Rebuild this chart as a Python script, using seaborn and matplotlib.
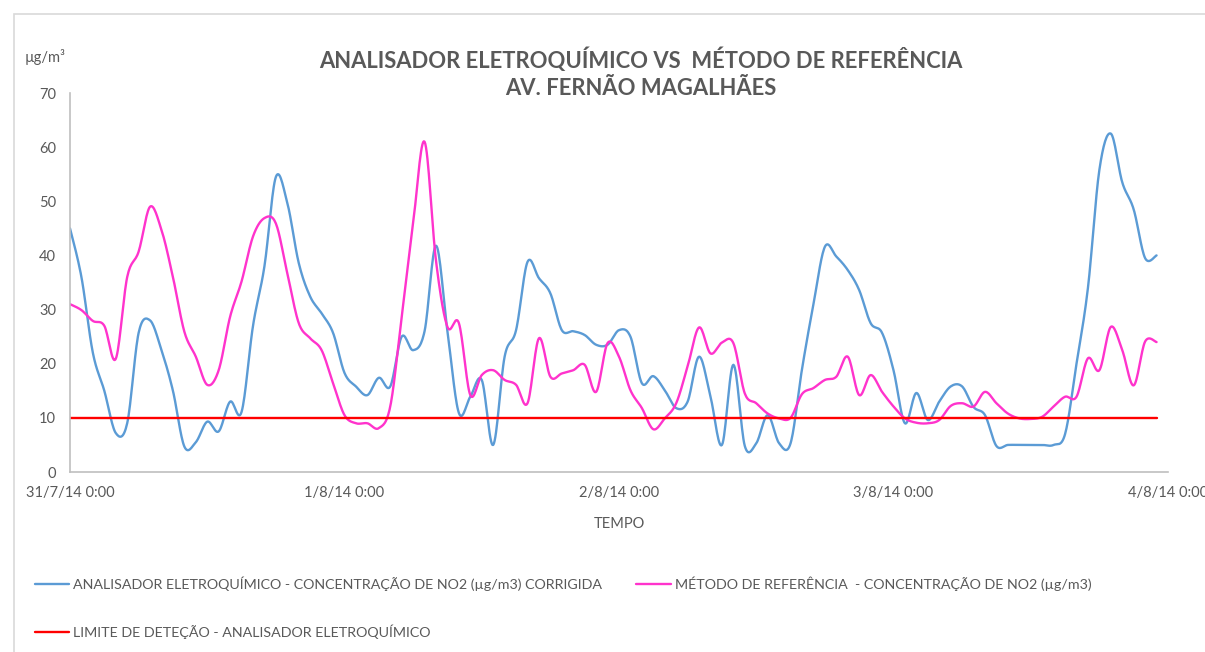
import numpy as np
import pandas as pd
import matplotlib
matplotlib.use('Agg')
import matplotlib.pyplot as plt
import matplotlib.patches as patches
import seaborn as sns

## hourly values (31/7/14 0:00 .. 3/8/14 23:00)
horas = list(range(96))

analisador = [45, 36, 22, 15, 7.2, 9, 25.7, 28, 22.5, 15,
              4.7, 5.5, 9.3, 7.5, 13, 11.1, 27, 38, 54.5, 49.7,
              38.6, 32.4, 29.3, 25.7, 18.3, 15.8, 14.2, 17.4, 15.8, 25,
              22.5, 26, 41.8, 26, 10.9, 13.9, 17, 5, 21.3, 26.2,
              38.8, 35.8, 33, 26.2, 26, 25.3, 23.5, 23.5, 26.2, 25,
              16.4, 17.7, 15.1, 11.8, 13, 21.3, 13.9, 5, 19.8, 4.8,
              5.3, 10.5, 5.3, 5.3, 19, 31, 41.6, 39.8, 37.3, 33.6,
              27.5, 25.7, 18.8, 9, 14.6, 9.6, 13, 15.8, 15.8, 12,
              10.5, 4.8, 5, 5, 5, 5, 5, 7, 20, 34,
              55.8, 62.5, 53.5, 48.5, 39.5, 40]

referencia = [31, 29.9, 27.9, 27, 20.9, 36, 40.7, 49, 44.7, 36,
              25.9, 21.3, 16.1, 18.8, 28.7, 35.2, 43.5, 46.9, 45.9, 36.7,
              27.5, 24.7, 22.5, 16.4, 10.5, 9, 9, 8.1, 12.1, 28.7,
              45.9, 61, 39, 26.8, 27.5, 14.2, 17.9, 18.8, 17, 16.1,
              12.7, 24.7, 17.6, 18.2, 18.8, 19.8, 14.8, 23.8, 21.3, 15.1,
              11.8, 7.9, 9.9, 12.7, 19.5, 26.7, 21.9, 23.9, 23.8, 14.5,
              12.7, 10.8, 9.9, 10, 14.4, 15.5, 17, 17.6, 21.3, 14.2,
              17.9, 14.8, 12.1, 9.9, 9.1, 9, 9.6, 12.2, 12.7, 12.1,
              14.8, 12.7, 10.8, 9.9, 9.8, 10.2, 12.1, 13.9, 13.9, 21,
              18.8, 26.8, 22.5, 16, 24.1, 24]

limite = 10

tick_pos = [0, 24, 48, 72, 96]
tick_labels = ['31/7/14 0:00', '1/8/14 0:00', '2/8/14 0:00', '3/8/14 0:00', '4/8/14 0:00']

nome_analisador = 'ANALISADOR ELETROQUÍMICO - CONCENTRAÇÃO DE NO2 (µg/m3) CORRIGIDA'
nome_referencia = 'MÉTODO DE REFERÊNCIA  - CONCENTRAÇÃO DE NO2 (µg/m3)'
nome_limite = 'LIMITE DE DETEÇÃO - ANALISADOR ELETROQUÍMICO'


def suavizar(x, y, n=16):
    # smoothed line like the spreadsheet one (catmull-rom bezier)
    x = np.asarray(x, float)
    y = np.asarray(y, float)
    xp = np.concatenate([[x[0]], x, [x[-1]]])
    yp = np.concatenate([[y[0]], y, [y[-1]]])
    t = np.linspace(0, 1, n, endpoint=False)
    xs, ys = [], []
    for i in range(len(x) - 1):
        for arr, out in ((xp, xs), (yp, ys)):
            p0, p1, p2, p3 = arr[i], arr[i + 1], arr[i + 2], arr[i + 3]
            c1 = p1 + (p2 - p0) / 6
            c2 = p2 - (p3 - p1) / 6
            out.extend((1 - t) ** 3 * p1 + 3 * (1 - t) ** 2 * t * c1
                       + 3 * (1 - t) * t ** 2 * c2 + t ** 3 * p2)
    xs.append(x[-1])
    ys.append(y[-1])
    return pd.DataFrame({'hora': xs, 'valor': ys})


sns.set_theme(style='white')
plt.rcParams['font.family'] = ['Lato', 'DejaVu Sans']

cinza = '#595959'
fig = plt.figure(figsize=(12.05, 6.52), dpi=100)
ax = fig.add_axes([70 / 1205, 1 - 472 / 652, (1168 - 70) / 1205, (472 - 93) / 652])

# chart border
fig.patches.append(patches.Rectangle((14 / 1205, -0.1), 1.2, 1 - 14 / 652 + 0.1,
                                     transform=fig.transFigure, fill=False,
                                     edgecolor='#D9D9D9', linewidth=1.2))

sns.lineplot(data=suavizar(horas, analisador), x='hora', y='valor', ax=ax,
             color='#5B9BD5', linewidth=1.7, estimator=None, sort=False,
             label=nome_analisador)
sns.lineplot(data=suavizar(horas, referencia), x='hora', y='valor', ax=ax,
             color='#FF33CC', linewidth=1.7, estimator=None, sort=False,
             label=nome_referencia)
ax.plot([horas[0], horas[-1]], [limite, limite], color='#FF0000', linewidth=1.7,
        label=nome_limite)

ax.set_xlim(0, 96)
ax.set_ylim(0, 70)
ax.set_yticks(range(0, 71, 10))
ax.set_xticks(tick_pos)
ax.set_xticklabels(tick_labels)
ax.tick_params(axis='both', direction='in', length=4, width=1, color='#BFBFBF',
               labelcolor=cinza, labelsize=10.5)
ax.tick_params(axis='y', pad=10)
ax.tick_params(axis='x', pad=10)
for s in ['top', 'right']:
    ax.spines[s].set_visible(False)
for s in ['left', 'bottom']:
    ax.spines[s].set_color('#BFBFBF')
    ax.spines[s].set_linewidth(1.2)

ax.set_xlabel('TEMPO', color=cinza, fontsize=10.5, labelpad=12)
ax.set_ylabel('')

fig.text(25 / 1205, 1 - 57 / 652, 'µg/m³', color=cinza, fontsize=10.5, va='center')
fig.text(641 / 1205, 1 - 73 / 652,
         'ANALISADOR ELETROQUÍMICO VS  MÉTODO DE REFERÊNCIA\nAV. FERNÃO MAGALHÃES',
         ha='center', va='center', color=cinza, fontsize=15.8, fontweight='bold',
         linespacing=1.35)

ax.get_legend().remove()
h, l = ax.get_legend_handles_labels()
order = [0, 2, 1]
fig.legend([h[i] for i in order], [l[i] for i in order], ncol=2,
           loc='upper left', bbox_to_anchor=(22 / 1205, 1 - 564 / 652),
           frameon=False, fontsize=10.25, labelcolor=cinza, handlelength=2.4,
           handletextpad=0.3, labelspacing=2.35, columnspacing=2.4)

fig.savefig('out.png', dpi=100)
